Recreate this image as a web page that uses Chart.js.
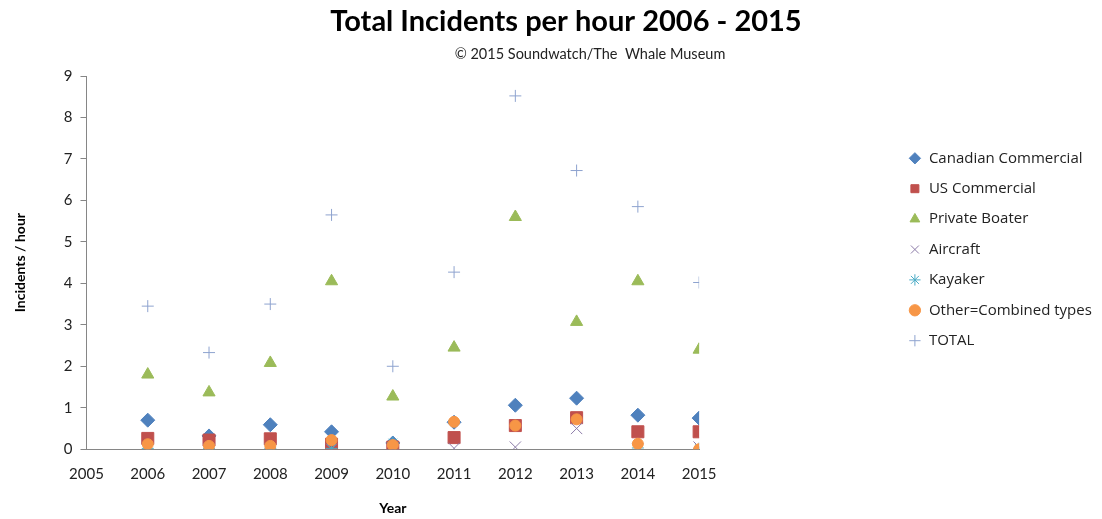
<!DOCTYPE html>
<html>
<head>
<meta charset="utf-8">
<title>Total Incidents per hour 2006 - 2015</title>
<script src="https://cdn.jsdelivr.net/npm/chart.js@4.4.1/dist/chart.umd.min.js"></script>
<style>
  html, body { margin: 0; padding: 0; background: #fff; }
  #wrap { width: 1102px; height: 519px; }
</style>
</head>
<body>
<div id="wrap"><canvas id="incidentsChart" width="1102" height="519"></canvas></div>
<script>
const years = [2006, 2007, 2008, 2009, 2010, 2011, 2012, 2013, 2014, 2015];

const canadianCommercial = [0.70, 0.32, 0.59, 0.42, 0.15, 0.65, 1.06, 1.23, 0.82, 0.75];
const usCommercial = [0.26, 0.22, 0.25, 0.12, 0.05, 0.28, 0.57, 0.76, 0.42, 0.42];
const privateBoater = [1.80, 1.37, 2.08, 4.05, 1.27, 2.45, 5.60, 3.07, 4.05, 2.40];
const aircraft = [0.00, 0.00, 0.00, 0.00, 0.00, 0.02, 0.05, 0.50, 0.00, 0.05];
const kayaker = [0.02, 0.02, 0.02, 0.02, 0.15, null, null, null, 0.03, 0.02];
const otherCombined = [0.12, 0.08, 0.08, 0.22, 0.10, 0.66, 0.57, 0.72, 0.13, 0.00];
const totals = [3.45, 2.33, 3.50, 5.65, 2.00, 4.27, 8.52, 6.72, 5.85, 4.02];

const yTicks = [0, 1, 2, 3, 4, 5, 6, 7, 8, 9];

const titleText = 'Total Incidents per hour 2006 - 2015';
const subtitleText = '\u00A9 2015 Soundwatch/The  Whale Museum';

// Pair each year with its value for the linear x axis
const points = values => years.map((y, i) => ({ x: y, y: values[i] }));

// Later series are painted over earlier ones (lower order = drawn last)
function series(label, values, style, color, radius, order, extra) {
  return Object.assign({
    label: label,
    data: points(values),
    order: order,
    pointStyle: style,
    pointRadius: radius,
    pointHoverRadius: radius,
    backgroundColor: color,
    borderColor: color,
    borderWidth: 1,
    showLine: false
  }, extra || {});
}

// Title and copyright line above the plot
const headerText = {
  id: 'headerText',
  afterDraw(chart) {
    const ctx = chart.ctx;
    ctx.save();
    ctx.textAlign = 'center';
    ctx.textBaseline = 'middle';
    ctx.fillStyle = '#000';
    ctx.font = 'bold 29px Lato';
    ctx.fillText(titleText, 566, 22);
    ctx.font = '14.5px Lato';
    ctx.fillStyle = '#222';
    ctx.fillText(subtitleText, 590, 54);
    ctx.restore();
  }
};

// Legend keeps its own spot on the right, away from the plot
const legendSpot = {
  id: 'legendSpot',
  afterLayout(chart) {
    const lg = chart.legend;
    const w = lg.width;
    lg.left = 893;
    lg.right = lg.left + w;
    lg.top -= 48;
    lg.bottom -= 48;
  }
};

new Chart(document.getElementById('incidentsChart').getContext('2d'), {
  type: 'scatter',
  data: {
    datasets: [
      series('Canadian Commercial', canadianCommercial, 'rectRot', '#4F81BD', 7, 7),
      series('US Commercial', usCommercial, 'rect', '#C0504D', 8.5, 6),
      series('Private Boater', privateBoater, 'triangle', '#9BBB59', 7, 5),
      series('Aircraft', aircraft, 'crossRot', '#8C7BA8', 8, 4, { backgroundColor: 'rgba(0,0,0,0)' }),
      series('Kayaker', kayaker, 'star', '#4BACC6', 6, 3, { backgroundColor: 'rgba(0,0,0,0)' }),
      series('Other=Combined types', otherCombined, 'circle', '#F79646', 5.5, 2),
      series('TOTAL', totals, 'cross', '#8EA3CF', 6, 1, { backgroundColor: 'rgba(0,0,0,0)' })
    ]
  },
  options: {
    responsive: false,
    animation: false,
    layout: {
      padding: { left: 6, top: 76, right: 194, bottom: 0 }
    },
    plugins: {
      legend: {
        display: true,
        position: 'right',
        labels: {
          usePointStyle: true,
          boxWidth: 13,
          boxHeight: 8,
          padding: 15.4,
          color: '#222',
          font: { family: 'Open Sans', size: 15 },
          sort: (a, b) => a.datasetIndex - b.datasetIndex
        }
      },
      title: { display: false },
      tooltip: { enabled: false }
    },
    scales: {
      x: {
        type: 'linear',
        min: 2005,
        max: 2015,
        grid: { display: false },
        border: { display: true, color: '#868686', width: 1 },
        ticks: {
          stepSize: 1,
          color: '#222',
          padding: 8,
          font: { family: 'Lato', size: 15 },
          callback: v => String(v)
        },
        title: {
          display: true,
          text: 'Year',
          color: '#000',
          padding: { top: 9, bottom: 2 },
          font: { family: 'Lato', size: 14, weight: 'bold' }
        }
      },
      y: {
        min: 0,
        max: 9,
        afterBuildTicks: scale => { scale.ticks = yTicks.map(v => ({ value: v })); },
        grid: {
          display: true,
          drawOnChartArea: false,
          drawTicks: true,
          tickLength: 6,
          color: '#868686'
        },
        border: { display: true, color: '#868686', width: 1 },
        ticks: {
          color: '#222',
          padding: 8,
          font: { family: 'Lato', size: 15 }
        },
        title: {
          display: true,
          text: 'Incidents / hour',
          color: '#000',
          padding: { top: 6, bottom: 27 },
          font: { family: 'Lato', size: 14, weight: 'bold' }
        }
      }
    }
  },
  plugins: [headerText, legendSpot]
});
</script>
</body>
</html>
